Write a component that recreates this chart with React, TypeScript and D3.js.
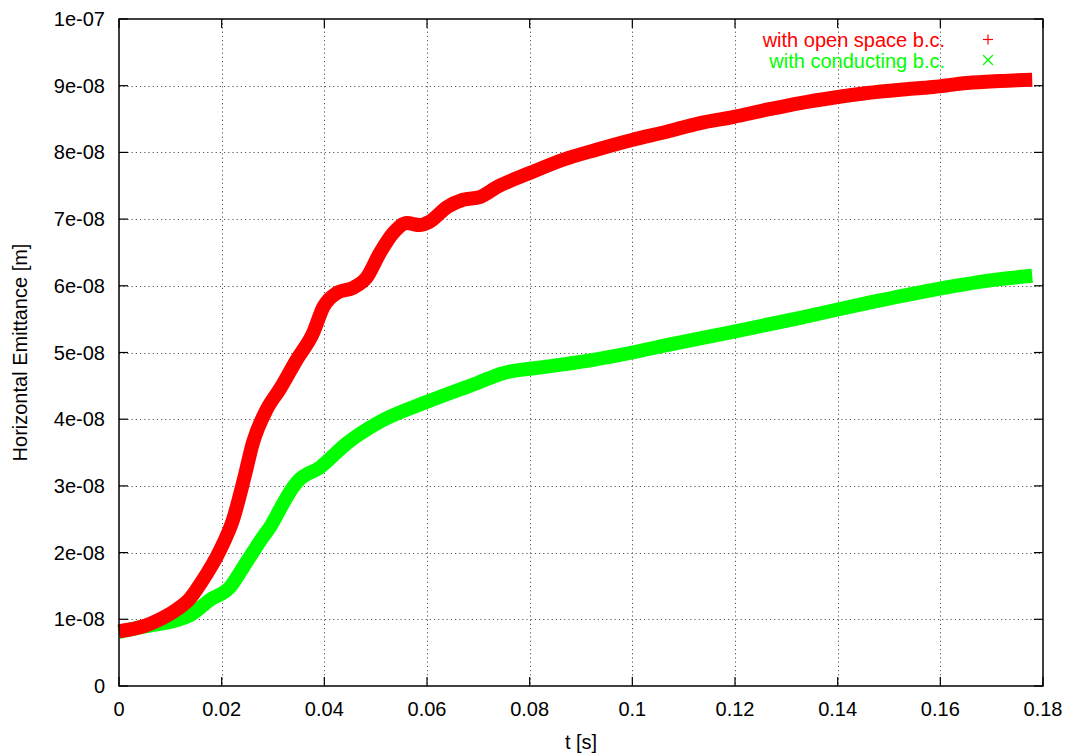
import React from "react";
import * as d3 from "d3";

const W = 1068;
const H = 754;

// Red series: with open space b.c.  (t [s], emittance [m])
const openT = [0, 0.005, 0.008, 0.0115, 0.0138, 0.016, 0.0197, 0.0222, 0.0245, 0.0261, 0.0288, 0.0314, 0.0346, 0.0378, 0.0398, 0.0424, 0.0456, 0.0483, 0.0508, 0.0534, 0.0561, 0.0586, 0.0605, 0.0639, 0.067, 0.0703, 0.0736, 0.08, 0.0865, 0.093, 0.1001, 0.1067, 0.1132, 0.1196, 0.1262, 0.1327, 0.1391, 0.1457, 0.1522, 0.1586, 0.1652, 0.1716, 0.1779];
const openE = [8.2e-9, 9.0e-9, 10.0e-9, 11.6e-9, 13.1e-9, 15.5e-9, 20.4e-9, 24.9e-9, 31.5e-9, 36.5e-9, 41.5e-9, 44.6e-9, 48.9e-9, 52.9e-9, 56.8e-9, 58.9e-9, 59.7e-9, 61.3e-9, 64.9e-9, 67.9e-9, 69.4e-9, 69.1e-9, 69.6e-9, 71.8e-9, 72.9e-9, 73.3e-9, 74.8e-9, 76.9e-9, 78.9e-9, 80.4e-9, 81.9e-9, 83.1e-9, 84.4e-9, 85.3e-9, 86.4e-9, 87.4e-9, 88.2e-9, 88.9e-9, 89.4e-9, 89.8e-9, 90.4e-9, 90.7e-9, 90.9e-9];

// Green series: with conducting b.c.
const condT = [0, 0.0047, 0.0113, 0.0138, 0.0177, 0.0216, 0.0242, 0.028, 0.0294, 0.032, 0.0339, 0.0347, 0.0392, 0.0444, 0.0503, 0.06, 0.0697, 0.0748, 0.0826, 0.0924, 0.1, 0.1067, 0.1196, 0.1327, 0.1457, 0.1586, 0.1716, 0.1779];
const condE = [8.1e-9, 8.9e-9, 9.9e-9, 10.6e-9, 12.9e-9, 14.8e-9, 17.8e-9, 22.3e-9, 23.8e-9, 27.4e-9, 29.8e-9, 30.6e-9, 32.8e-9, 36.4e-9, 39.4e-9, 42.6e-9, 45.4e-9, 46.9e-9, 47.8e-9, 48.9e-9, 50.0e-9, 51.1e-9, 53.1e-9, 55.2e-9, 57.4e-9, 59.4e-9, 61.0e-9, 61.5e-9];

const xTicks = [0, 0.02, 0.04, 0.06, 0.08, 0.1, 0.12, 0.14, 0.16, 0.18];
const xTickLabels = ["0", "0.02", "0.04", "0.06", "0.08", "0.1", "0.12", "0.14", "0.16", "0.18"];
const yTicks = [0, 1e-8, 2e-8, 3e-8, 4e-8, 5e-8, 6e-8, 7e-8, 8e-8, 9e-8, 1e-7];
const yTickLabels = ["0", "1e-08", "2e-08", "3e-08", "4e-08", "5e-08", "6e-08", "7e-08", "8e-08", "9e-08", "1e-07"];

const seriesNames = ["with open space b.c.", "with conducting b.c."];
const seriesColors = ["#ff0000", "#00ff00"];

const FONT = "'Liberation Sans', Arial, Helvetica, sans-serif";

export default function App() {
  const left = 119, right = 1043, top = 19, bottom = 686;
  const x = d3.scaleLinear().domain([0, 0.18]).range([left, right]);
  const y = d3.scaleLinear().domain([0, 1e-7]).range([bottom, top]);

  const line = d3
    .line<[number, number]>()
    .x((d) => x(d[0]))
    .y((d) => y(d[1]))
    .curve(d3.curveMonotoneX);

  const openData = openT.map((t, i) => [t, openE[i]] as [number, number]);
  const condData = condT.map((t, i) => [t, condE[i]] as [number, number]);

  const tickLen = 9;
  const fs = 20;

  return (
    <div style={{ position: "fixed", left: 0, top: 0, width: W, height: H, background: "#fff" }}>
      <svg width={W} height={H} style={{ display: "block" }} fontFamily={FONT}>
        <rect x={0} y={0} width={W} height={H} fill="#fff" />
        {/* grid */}
        <g stroke="#555" strokeWidth={1} strokeDasharray="1.2,3" fill="none">
          {xTicks.slice(1, -1).map((t) => (
            <line key={"gx" + t} x1={Math.round(x(t)) + 0.5} x2={Math.round(x(t)) + 0.5} y1={top} y2={bottom} />
          ))}
          {yTicks.slice(1, -1).map((v) => (
            <line key={"gy" + v} x1={left} x2={right} y1={Math.round(y(v)) + 0.5} y2={Math.round(y(v)) + 0.5} />
          ))}
        </g>
        {/* ticks */}
        <g stroke="#000" strokeWidth={1.2}>
          {xTicks.map((t) => (
            <g key={"tx" + t}>
              <line x1={x(t)} x2={x(t)} y1={bottom} y2={bottom - tickLen} />
              <line x1={x(t)} x2={x(t)} y1={top} y2={top + tickLen} />
            </g>
          ))}
          {yTicks.map((v) => (
            <g key={"ty" + v}>
              <line x1={left} x2={left + tickLen} y1={y(v)} y2={y(v)} />
              <line x1={right} x2={right - tickLen} y1={y(v)} y2={y(v)} />
            </g>
          ))}
        </g>
        {/* series */}
        <path d={line(condData) || ""} fill="none" stroke={seriesColors[1]} strokeWidth={14} strokeLinejoin="round" />
        <path d={line(openData) || ""} fill="none" stroke={seriesColors[0]} strokeWidth={14} strokeLinejoin="round" />
        {/* border */}
        <rect x={left} y={top} width={right - left} height={bottom - top} fill="none" stroke="#000" strokeWidth={1.5} />
        {/* tick labels */}
        <g fontSize={fs} fill="#000">
          {xTicks.map((t, i) => (
            <text key={"lx" + t} x={x(t)} y={716} textAnchor="middle">
              {xTickLabels[i]}
            </text>
          ))}
          {yTicks.map((v, i) => (
            <text key={"ly" + v} x={105} y={y(v) + 7} textAnchor="end">
              {yTickLabels[i]}
            </text>
          ))}
          <text x={(left + right) / 2} y={749} textAnchor="middle">t [s]</text>
          <text transform={`translate(27,${(top + bottom) / 2}) rotate(-90)`} textAnchor="middle">
            Horizontal Emittance [m]
          </text>
        </g>
        {/* legend */}
        <g fontSize={fs}>
          <text x={945} y={47} textAnchor="end" fill={seriesColors[0]}>{seriesNames[0]}</text>
          <text x={945} y={68} textAnchor="end" fill={seriesColors[1]}>{seriesNames[1]}</text>
          <g stroke={seriesColors[0]} strokeWidth={1.2}>
            <line x1={983} x2={993} y1={39.5} y2={39.5} />
            <line x1={988} x2={988} y1={34.5} y2={44.5} />
          </g>
          <g stroke={seriesColors[1]} strokeWidth={1.2}>
            <line x1={983} x2={993} y1={55} y2={65} />
            <line x1={983} x2={993} y1={65} y2={55} />
          </g>
        </g>
      </svg>
    </div>
  );
}
